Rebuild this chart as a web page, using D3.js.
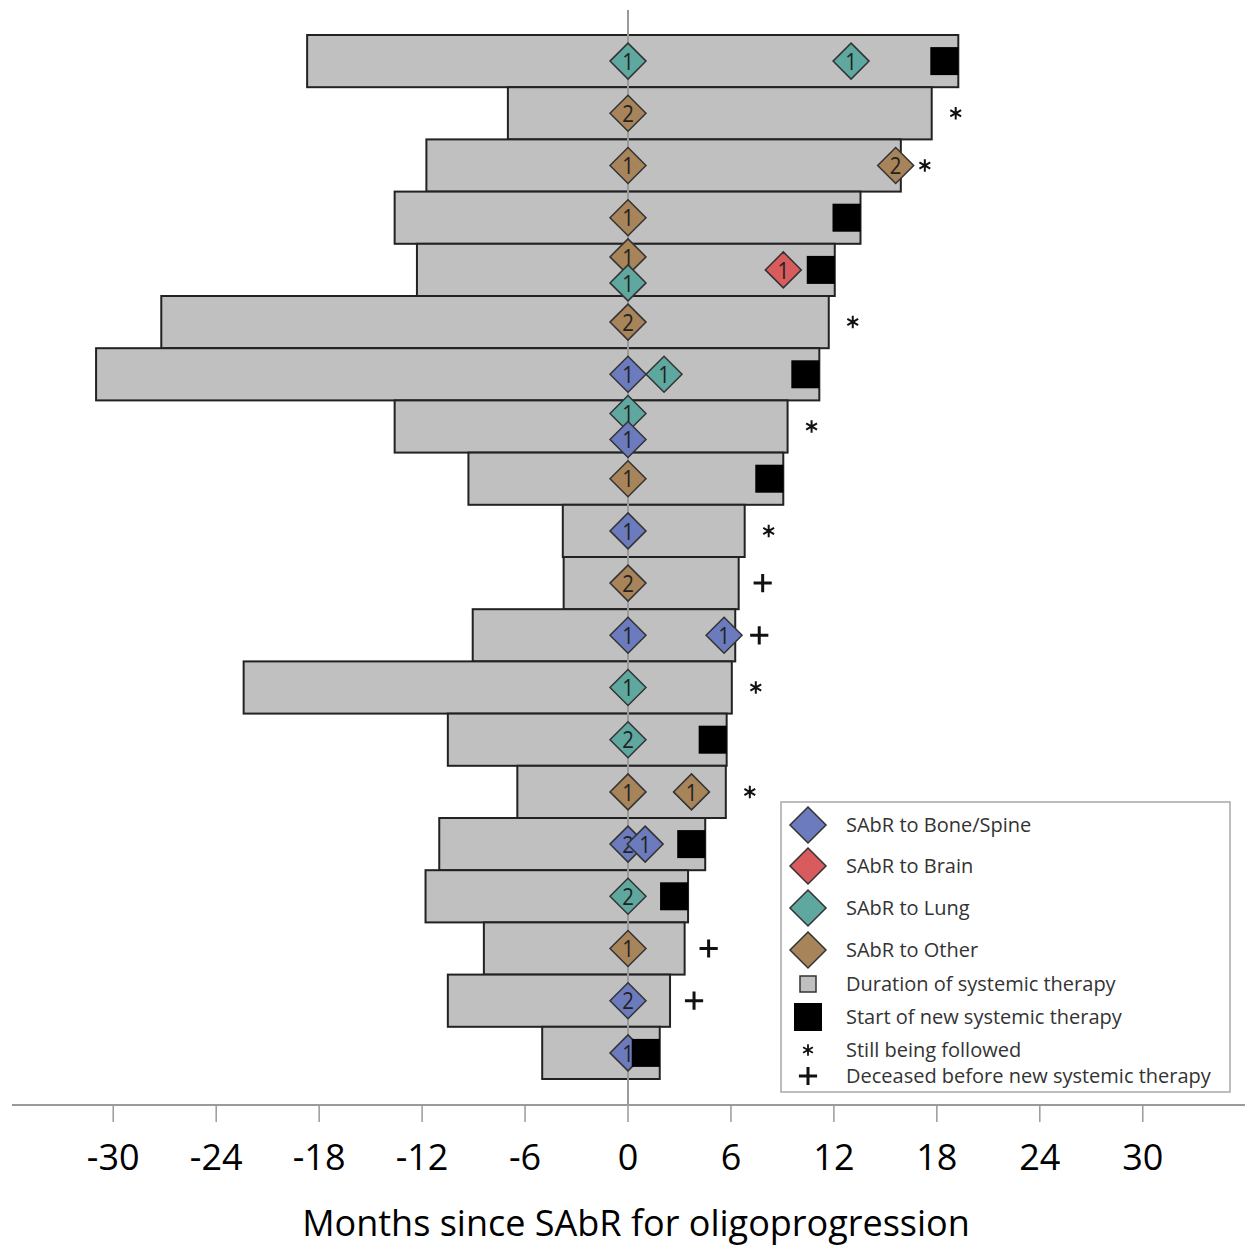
<!DOCTYPE html>
<html>
<head>
<meta charset="utf-8">
<script src="https://cdn.jsdelivr.net/npm/d3@7"></script>
<style>
  html, body { margin: 0; padding: 0; background: #fff; }
  svg { display: block; }
  text { font-family: "Open Sans", "Noto Sans", sans-serif; }
</style>
</head>
<body>
<svg id="chart" width="1250" height="1247"></svg>
<script>
// Patients, top to bottom
const patients = d3.range(1, 21);
// Start and end of systemic therapy (months relative to SAbR)
const therapyStart = [-18.7, -7.0, -11.75, -13.6, -12.3, -27.2, -31.0, -13.6, -9.3, -3.8,
                      -3.75, -9.05, -22.4, -10.5, -6.45, -11.0, -11.8, -8.4, -10.5, -5.0];
const therapyEnd   = [19.25, 17.7, 15.9, 13.55, 12.05, 11.7, 11.15, 9.3, 9.05, 6.8,
                      6.45, 6.25, 6.05, 5.75, 5.7, 4.5, 3.5, 3.3, 2.45, 1.85];
// Status at end of therapy: "new" = start of new systemic therapy, "follow" = still followed, "dead"
const outcome = ["new", "follow", "follow", "new", "new", "follow", "new", "follow", "new", "follow",
                 "dead", "dead", "follow", "new", "follow", "new", "new", "dead", "dead", "new"];

// SAbR courses: patient, month, site, course count
const sabrPatient = [1, 1, 2, 3, 3, 4, 5, 5, 5, 6, 7, 7, 8, 8, 9, 10, 11, 12, 12, 13, 14, 15, 15, 16, 16, 17, 18, 19, 20];
const sabrMonth   = [0, 13.0, 0, 0, 15.6, 0, 0, 0, 9.05, 0, 0, 2.1, 0, 0, 0, 0, 0, 0, 5.6, 0, 0, 0, 3.7, 0, 1.0, 0, 0, 0, 0];
const sabrSite    = ["Lung", "Lung", "Other", "Other", "Other", "Other", "Other", "Lung", "Brain", "Other",
                     "Bone/Spine", "Lung", "Lung", "Bone/Spine", "Other", "Bone/Spine", "Other", "Bone/Spine", "Bone/Spine", "Lung",
                     "Lung", "Other", "Other", "Bone/Spine", "Bone/Spine", "Lung", "Other", "Bone/Spine", "Bone/Spine"];
const sabrCount   = [1, 1, 2, 1, 2, 1, 1, 1, 1, 2, 1, 1, 1, 1, 1, 1, 2, 1, 1, 1, 2, 1, 1, 2, 1, 2, 1, 2, 1];

const sites = ["Bone/Spine", "Brain", "Lung", "Other"];
const siteColors = ["#6b7bbd", "#d85b5d", "#5ea89f", "#a8845b"];
const xTicks = [-30, -24, -18, -12, -6, 0, 6, 12, 18, 24, 30];

const svg = d3.select("#chart");

const x = d3.scaleLinear().domain([-35.9, 35.9]).range([12, 1244]);
const y = d3.scaleBand().domain(patients).range([35, 1079]).paddingInner(0);
const color = d3.scaleOrdinal().domain(sites).range(siteColors);

const axisY = 1105;

// therapy duration bars
const rows = patients.map((p, i) => ({ p, s: therapyStart[i], e: therapyEnd[i], o: outcome[i] }));

svg.append("g").selectAll("rect").data(rows).join("rect")
  .attr("x", d => x(d.s))
  .attr("y", d => y(d.p))
  .attr("width", d => x(d.e) - x(d.s))
  .attr("height", y.bandwidth())
  .attr("fill", "#c0c0c0")
  .attr("stroke", "#222")
  .attr("stroke-width", 2);

// reference line at time of SAbR
svg.append("line")
  .attr("x1", x(0)).attr("x2", x(0))
  .attr("y1", 10).attr("y2", axisY)
  .attr("stroke", "#9a9a9a").attr("stroke-width", 2);

// SAbR diamonds; courses at the same time in one row are stacked
const events = sabrPatient.map((p, i) => ({ p, t: sabrMonth[i], site: sabrSite[i], n: sabrCount[i] }));
const groups = d3.group(events, d => d.p + "|" + d.t);
groups.forEach(list => {
  list.forEach((d, k) => { d.off = (k - (list.length - 1) / 2) * 26; });
});

const half = 18;
const diamond = `M0,${-half}L${half},0L0,${half}L${-half},0Z`;
const ev = svg.append("g").selectAll("g").data(events).join("g")
  .attr("transform", d => `translate(${x(d.t)},${y(d.p) + y.bandwidth() / 2 + d.off})`);
ev.append("path")
  .attr("d", diamond)
  .attr("fill", d => color(d.site))
  .attr("stroke", "#333")
  .attr("stroke-width", 1.5);
ev.append("text")
  .attr("text-anchor", "middle")
  .attr("dy", "0.36em")
  .attr("font-size", 24)
  .attr("fill", "#222")
  .attr("transform", "scale(0.85,1)")
  .text(d => d.n);

// new systemic therapy markers, end aligned with bar end
const sq = 28;
svg.append("g").selectAll("rect").data(rows.filter(d => d.o === "new")).join("rect")
  .attr("x", d => x(d.e) - sq)
  .attr("y", d => y(d.p) + y.bandwidth() / 2 - sq / 2)
  .attr("width", sq).attr("height", sq)
  .attr("fill", "#000");

// still followed / deceased symbols
const star = d3.symbol().type(d3.symbolAsterisk).size(110);
const plus = d3.symbol().type(d3.symbolPlus).size(110);
const tails = svg.append("g").selectAll("path").data(rows.filter(d => d.o !== "new")).join("path")
  .attr("transform", d => `translate(${x(d.e) + 24},${y(d.p) + y.bandwidth() / 2})`)
  .attr("fill", "none")
  .attr("stroke", "#111");
tails.filter(d => d.o === "follow")
  .attr("d", star()).attr("stroke-width", 2);
tails.filter(d => d.o === "dead")
  .attr("d", plus()).attr("stroke-width", 3);

// x axis
const ax = svg.append("g");
ax.append("line")
  .attr("x1", 12).attr("x2", 1245)
  .attr("y1", axisY).attr("y2", axisY)
  .attr("stroke", "#9a9a9a").attr("stroke-width", 2);
ax.selectAll("line.tick").data(xTicks).join("line")
  .attr("class", "tick")
  .attr("x1", d => x(d)).attr("x2", d => x(d))
  .attr("y1", axisY).attr("y2", axisY + 17)
  .attr("stroke", "#9a9a9a").attr("stroke-width", 1.5);
ax.selectAll("text.tl").data(xTicks).join("text")
  .attr("class", "tl")
  .attr("x", d => x(d))
  .attr("y", 1170)
  .attr("text-anchor", "middle")
  .attr("font-size", 36)
  .attr("font-weight", 500)
  .attr("fill", "#000")
  .text(d => d);
svg.append("text")
  .attr("x", 636).attr("y", 1236)
  .attr("text-anchor", "middle")
  .attr("font-size", 36)
  .attr("font-weight", 500)
  .attr("fill", "#000")
  .text("Months since SAbR for oligoprogression");

// legend
const lg = svg.append("g");
lg.append("rect")
  .attr("x", 781).attr("y", 802).attr("width", 449).attr("height", 290)
  .attr("fill", "#fff").attr("stroke", "#a8a8a8").attr("stroke-width", 1.5);

const lx = 808, tx = 846;
const legendLabels = ["SAbR to Bone/Spine", "SAbR to Brain", "SAbR to Lung", "SAbR to Other",
                      "Duration of systemic therapy", "Start of new systemic therapy",
                      "Still being followed", "Deceased before new systemic therapy"];
const legendY = [825, 866, 908, 950, 984, 1017, 1050, 1076];

sites.forEach((s, i) => {
  lg.append("path")
    .attr("transform", `translate(${lx},${legendY[i]})`)
    .attr("d", diamond)
    .attr("fill", color(s)).attr("stroke", "#333").attr("stroke-width", 1.5);
});
lg.append("rect")
  .attr("x", lx - 8).attr("y", legendY[4] - 8).attr("width", 16).attr("height", 16)
  .attr("fill", "#c0c0c0").attr("stroke", "#333").attr("stroke-width", 1.5);
lg.append("rect")
  .attr("x", lx - 14).attr("y", legendY[5] - 14).attr("width", 28).attr("height", 28)
  .attr("fill", "#000");
lg.append("path")
  .attr("transform", `translate(${lx},${legendY[6]})`)
  .attr("d", d3.symbol().type(d3.symbolAsterisk).size(90)())
  .attr("fill", "none").attr("stroke", "#111").attr("stroke-width", 1.8);
lg.append("path")
  .attr("transform", `translate(${lx},${legendY[7]})`)
  .attr("d", plus())
  .attr("fill", "none").attr("stroke", "#111").attr("stroke-width", 3);

lg.selectAll("text").data(legendLabels).join("text")
  .attr("x", tx)
  .attr("y", (d, i) => legendY[i])
  .attr("dy", "0.35em")
  .attr("font-size", 20)
  .attr("fill", "#333")
  .text(d => d);
</script>
</body>
</html>
